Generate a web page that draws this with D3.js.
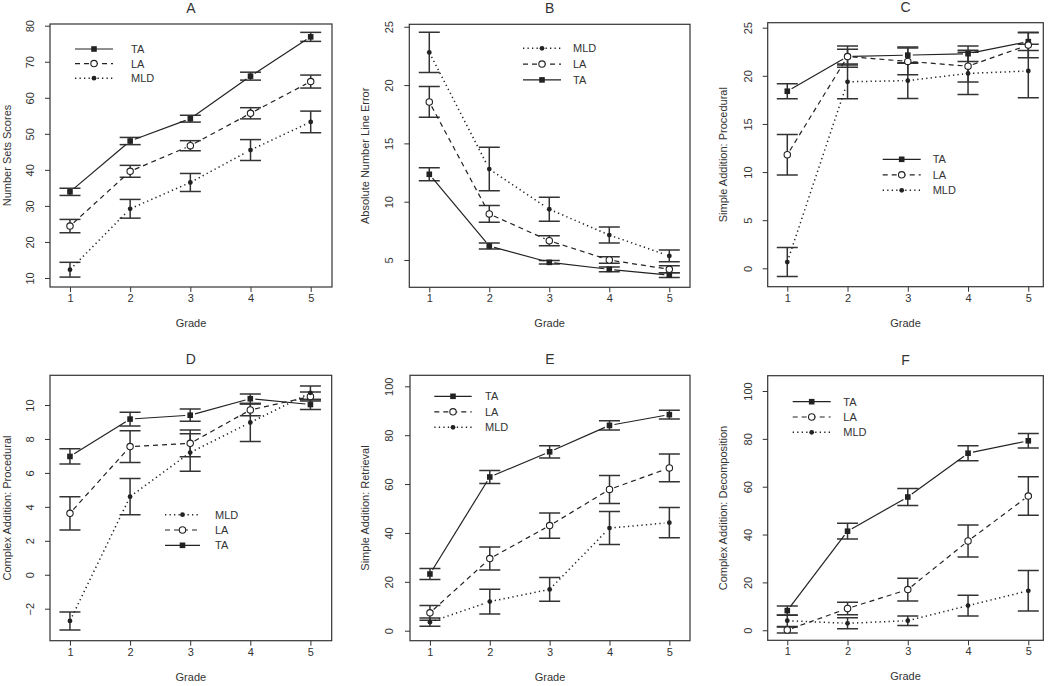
<!DOCTYPE html>
<html><head><meta charset="utf-8">
<script src="https://cdn.jsdelivr.net/npm/d3@7/dist/d3.min.js"></script>
<style>
body{margin:0;background:#fff}
text{font-family:"Liberation Sans",Arial,Helvetica,sans-serif;fill:#333}
</style>
</head><body>
<svg id="chart" width="1050" height="686"></svg>
<script>
// ---------- DATA ----------
const grades = [1, 2, 3, 4, 5];
const groups = ["TA", "LA", "MLD"];

const panelTitles = ["A", "B", "C", "D", "E", "F"];
const yLabels = ["Number Sets Scores", "Absolute Number Line Error", "Simple Addition: Procedural",
                 "Complex Addition: Procedural", "Simple Addition: Retrieval", "Complex Addition: Decomposition"];
const yTicksA = [10, 20, 30, 40, 50, 60, 70, 80];
const yTicksB = [5, 10, 15, 20, 25];
const yTicksC = [0, 5, 10, 15, 20, 25];
const yTicksD = [-2, 0, 2, 4, 6, 8, 10];
const yTicksE = [0, 20, 40, 60, 80, 100];
const yTicksF = [0, 20, 40, 60, 80, 100];

// A: Number Sets Scores (mean, standard error)
const A_TA  = [33.9, 48.0, 54.2, 66.0, 76.9];   const A_TA_se  = [1.0, 1.0, 0.95, 1.1, 1.25];
const A_LA  = [24.4, 39.6, 46.7, 55.7, 64.5];   const A_LA_se  = [1.85, 1.65, 1.4, 1.55, 1.8];
const A_MLD = [12.3, 29.2, 36.5, 45.5, 53.3];   const A_MLD_se = [2.05, 2.6, 2.5, 2.9, 3.0];
// B: Absolute Number Line Error
const B_TA  = [12.35, 6.2, 4.8, 4.2, 3.7];      const B_TA_se  = [0.55, 0.26, 0.15, 0.2, 0.2];
const B_LA  = [18.55, 8.95, 6.65, 5.0, 4.2];    const B_LA_se  = [1.32, 0.72, 0.42, 0.27, 0.3];
const B_MLD = [22.8, 12.8, 9.35, 7.14, 5.35];   const B_MLD_se = [1.72, 1.87, 1.03, 0.69, 0.5];
// C: Simple Addition: Procedural
const C_TA  = [18.4, 22.0, 22.15, 22.3, 23.55]; const C_TA_se  = [0.78, 0.77, 0.85, 0.8, 0.92];
const C_LA  = [11.8, 22.0, 21.5, 21.0, 23.2];   const C_LA_se  = [2.1, 1.1, 1.4, 1.65, 1.33];
const C_MLD = [0.65, 19.38, 19.5, 20.25, 20.5]; const C_MLD_se = [1.5, 1.75, 1.85, 2.2, 2.78];
// D: Complex Addition: Procedural
const D_TA  = [6.97, 9.17, 9.4, 10.37, 10.03];  const D_TA_se  = [0.45, 0.4, 0.36, 0.28, 0.29];
const D_LA  = [3.62, 7.55, 7.74, 9.71, 10.5];   const D_LA_se  = [0.98, 0.93, 0.79, 0.35, 0.27];
const D_MLD = [-2.72, 4.6, 7.2, 8.97, 10.72];   const D_MLD_se = [0.53, 1.07, 1.1, 1.12, 0.4];
// E: Simple Addition: Retrieval
const E_TA  = [23.2, 62.9, 73.2, 84.0, 88.4];   const E_TA_se  = [2.2, 2.65, 2.5, 1.9, 1.8];
const E_LA  = [7.3, 29.5, 43.0, 57.8, 66.6];    const E_LA_se  = [3.0, 4.7, 5.15, 5.75, 5.65];
const E_MLD = [3.5, 11.9, 16.9, 42.0, 44.2];    const E_MLD_se = [1.7, 5.05, 4.85, 6.75, 6.2];
// F: Complex Addition: Decomposition
const F_TA  = [8.2, 41.4, 55.7, 74.0, 79.2];    const F_TA_se  = [1.9, 3.3, 3.55, 3.1, 3.0];
const F_LA  = [0.1, 9.1, 17.0, 37.3, 56.1];     const F_LA_se  = [1.3, 2.6, 4.75, 6.7, 8.05];
const F_MLD = [4.0, 2.9, 4.0, 10.3, 16.5];      const F_MLD_se = [2.4, 2.3, 2.0, 4.3, 8.5];

// ---------- LAYOUT ----------
const panels = [
  {series:{TA:[A_TA,A_TA_se],LA:[A_LA,A_LA_se],MLD:[A_MLD,A_MLD_se]}, yticks:yTicksA,
   box:[50,332,24,287], xdom:[0.668,5.354], ydom:[7.5,80.47], ylabX:7, ytickX:30,
   legend:{order:["TA","LA","MLD"], x1:75, x2:113, y:49, dy:14.6, tx:131}},
  {series:{TA:[B_TA,B_TA_se],LA:[B_LA,B_LA_se],MLD:[B_MLD,B_MLD_se]}, yticks:yTicksB,
   box:[409.3,690,24.3,287.3], xdom:[0.667,5.345], ydom:[2.66,25.21], ylabX:365, ytickX:389.3,
   legend:{order:["MLD","LA","TA"], x1:523, x2:561, y:48.3, dy:15.8, tx:573}},
  {series:{TA:[C_TA,C_TA_se],LA:[C_LA,C_LA_se],MLD:[C_MLD,C_MLD_se]}, yticks:yTicksC,
   box:[767.7,1043.3,22.7,286.7], xdom:[0.675,5.249], ydom:[-1.91,25.52], ylabX:723.3, ytickX:747.7,
   legend:{order:["TA","LA","MLD"], x1:882.7, x2:920.7, y:159.3, dy:15.5, tx:932.7}},
  {series:{TA:[D_TA,D_TA_se],LA:[D_LA,D_LA_se],MLD:[D_MLD,D_MLD_se]}, yticks:yTicksD,
   box:[50,331.7,375.3,640.7], xdom:[0.668,5.354], ydom:[-3.885,11.75], ylabX:7, ytickX:30,
   legend:{order:["MLD","LA","TA"], x1:165, x2:200, y:514.7, dy:15.3, tx:215}},
  {series:{TA:[E_TA,E_TA_se],LA:[E_LA,E_LA_se],MLD:[E_MLD,E_MLD_se]}, yticks:yTicksE,
   box:[410,690,375.3,640.7], xdom:[0.667,5.345], ydom:[-4.09,104.5], ylabX:365, ytickX:389.3,
   legend:{order:["TA","LA","MLD"], x1:434.3, x2:471.7, y:396.3, dy:15.5, tx:485}},
  {series:{TA:[F_TA,F_TA_se],LA:[F_LA,F_LA_se],MLD:[F_MLD,F_MLD_se]}, yticks:yTicksF,
   box:[767.7,1043.3,375.7,640.3], xdom:[0.675,5.249], ydom:[-4.2,106.4], ylabX:723.3, ytickX:747.7,
   legend:{order:["TA","LA","MLD"], x1:792.7, x2:830.7, y:401.7, dy:15.3, tx:843.3}}
];

const lineStyle = {TA:"none", LA:"5,4", MLD:"1.3,3.2"};
const ink = "#222";
const svg = d3.select("#chart");
svg.append("rect").attr("width",1050).attr("height",686).attr("fill","#fff");

function drawPoint(g, kind, cx, cy){
  if(kind==="TA"){
    g.append("rect").attr("x",cx-2.8).attr("y",cy-2.8).attr("width",5.6).attr("height",5.6).attr("fill",ink);
  } else if(kind==="LA"){
    g.append("circle").attr("cx",cx).attr("cy",cy).attr("r",3.2).attr("fill","#fff").attr("stroke",ink).attr("stroke-width",1.1);
  } else {
    g.append("circle").attr("cx",cx).attr("cy",cy).attr("r",2.4).attr("fill",ink);
  }
}

panels.forEach((p, i) => {
  const [bx0,bx1,by0,by1] = p.box;
  const g = svg.append("g");
  const x = d3.scaleLinear().domain(p.xdom).range([bx0,bx1]);
  const y = d3.scaleLinear().domain(p.ydom).range([by1,by0]);
  const cx = (bx0+bx1)/2, cy = (by0+by1)/2;

  const clipId = "clip"+i;
  svg.append("clipPath").attr("id",clipId).append("rect")
    .attr("x",bx0).attr("y",by0).attr("width",bx1-bx0).attr("height",by1-by0);
  const plot = g.append("g").attr("clip-path",`url(#${clipId})`);

  // error bars
  groups.forEach(k => {
    const [m, se] = p.series[k];
    grades.forEach((gr, j) => {
      const xx = x(gr), ylo = y(m[j]-se[j]), yhi = y(m[j]+se[j]);
      plot.append("line").attr("x1",xx).attr("x2",xx).attr("y1",ylo).attr("y2",yhi)
        .attr("stroke","#333").attr("stroke-width",1.5);
      [ylo, yhi].forEach(yy => plot.append("line").attr("x1",xx-10.5).attr("x2",xx+10.5)
        .attr("y1",yy).attr("y2",yy).attr("stroke","#333").attr("stroke-width",1.5));
    });
  });
  // lines (type "b": gaps around points)
  const gap = 5;
  groups.forEach(k => {
    const [m] = p.series[k];
    for(let j=0;j<grades.length-1;j++){
      const xa=x(grades[j]), ya=y(m[j]), xb=x(grades[j+1]), yb=y(m[j+1]);
      const L=Math.hypot(xb-xa,yb-ya); if(L<2*gap) continue;
      const ux=(xb-xa)/L, uy=(yb-ya)/L;
      plot.append("line").attr("x1",xa+ux*gap).attr("y1",ya+uy*gap)
        .attr("x2",xb-ux*gap).attr("y2",yb-uy*gap)
        .attr("stroke",ink).attr("stroke-width",k==="MLD"?1.5:1.2)
        .attr("stroke-dasharray",lineStyle[k]);
    }
  });
  // points
  groups.forEach(k => {
    const [m] = p.series[k];
    grades.forEach((gr,j) => drawPoint(plot, k, x(gr), y(m[j])));
  });

  // box
  g.append("rect").attr("x",bx0).attr("y",by0).attr("width",bx1-bx0).attr("height",by1-by0)
    .attr("fill","none").attr("stroke","#333").attr("stroke-width",1.2);

  // x axis
  const xa = g.append("g").attr("transform",`translate(0,${by1})`)
    .call(d3.axisBottom(x).tickValues(grades).tickSize(5).tickPadding(5).tickFormat(d3.format("d")));
  xa.select(".domain").remove();
  xa.selectAll("line").attr("stroke","#333");
  xa.selectAll("text").attr("font-size",11).attr("fill","#333").attr("dy",0).attr("y",11)
    .attr("dominant-baseline","central");

  // y axis
  const ya = g.append("g").attr("transform",`translate(${bx0},0)`)
    .call(d3.axisLeft(y).tickValues(p.yticks).tickSize(5).tickFormat(d3.format("d")));
  ya.select(".domain").remove();
  ya.selectAll("line").attr("stroke","#333");
  ya.selectAll("text").attr("font-size",11).attr("fill","#333")
    .attr("x",0).attr("dy","0.35em").attr("text-anchor","middle")
    .attr("transform",`translate(${p.ytickX-bx0},0) rotate(-90)`);

  // titles
  g.append("text").attr("x",cx).attr("y",by0-16).attr("text-anchor","middle")
    .attr("dominant-baseline","central").attr("font-size",14).text(panelTitles[i]);
  g.append("text").attr("x",cx).attr("y",by1+36).attr("text-anchor","middle")
    .attr("dominant-baseline","central").attr("font-size",11).text("Grade");
  g.append("text").attr("transform",`translate(${p.ylabX},${cy}) rotate(-90)`)
    .attr("text-anchor","middle").attr("dy","0.35em").attr("font-size",11).text(yLabels[i]);

  // legend
  const lg = p.legend;
  lg.order.forEach((k, r) => {
    const yy = lg.y + r*lg.dy;
    g.append("line").attr("x1",lg.x1).attr("x2",lg.x2).attr("y1",yy).attr("y2",yy)
      .attr("stroke",ink).attr("stroke-width",k==="MLD"?1.5:1.2).attr("stroke-dasharray",lineStyle[k]);
    drawPoint(g, k, (lg.x1+lg.x2)/2, yy);
    g.append("text").attr("x",lg.tx).attr("y",yy).attr("dominant-baseline","central")
      .attr("font-size",11).text(k);
  });
});
</script>
</body></html>
